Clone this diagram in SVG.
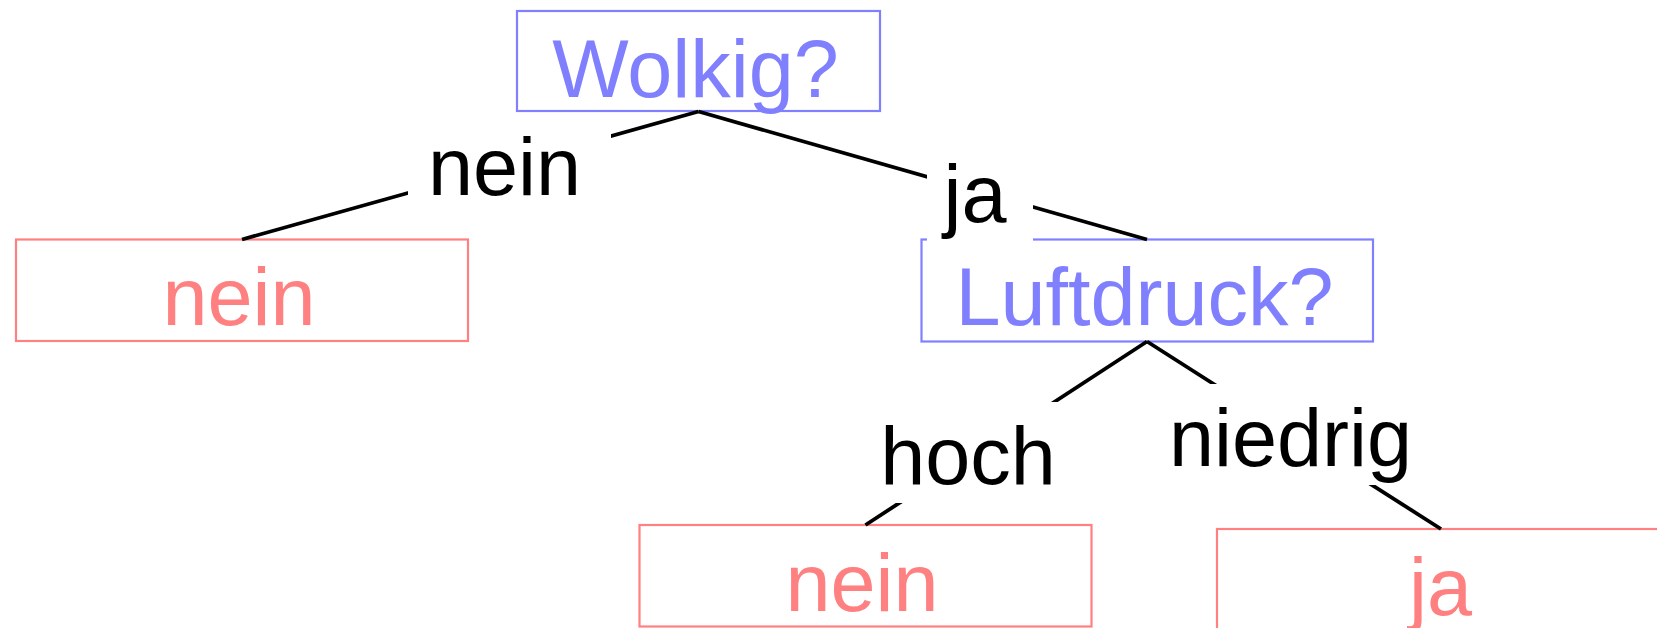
<svg xmlns="http://www.w3.org/2000/svg" width="1657" height="628" viewBox="0 0 1657 628">
  <style>
    text { font-family: "Liberation Sans", Arial, Helvetica, sans-serif; font-size: 81px; text-anchor: middle; }
    .question rect { fill: #ffffff; stroke: #8080ff; stroke-width: 2.2; }
    .question text { fill: #8080ff; }
    .answer rect { fill: #ffffff; stroke: #ff8080; stroke-width: 2.2; }
    .answer text { fill: #ff8080; }
    .edge line { stroke: #000000; stroke-width: 3.8; stroke-linecap: butt; }
    .edge rect { fill: #ffffff; stroke: none; }
    .edge text { fill: #000000; }
  </style>

  <!-- decision nodes -->
  <g id="node-wolkig" class="question">
    <rect x="517" y="11" width="363" height="100"/>
    <text x="695.5" y="97">Wolkig?</text>
  </g>
  <g id="node-nein-1" class="answer">
    <rect x="16" y="239.5" width="452" height="101.5"/>
    <text x="239" y="325">nein</text>
  </g>
  <g id="node-luftdruck" class="question">
    <rect x="921.5" y="239.5" width="451.5" height="102"/>
    <text x="1144.5" y="325">Luftdruck?</text>
  </g>
  <g id="node-nein-2" class="answer">
    <rect x="639.5" y="525" width="452" height="101.5"/>
    <text x="862" y="611">nein</text>
  </g>
  <g id="node-ja" class="answer">
    <rect x="1217" y="529" width="452" height="102"/>
    <text x="1440.5" y="615">ja</text>
  </g>

  <!-- edges with their labels; the label backing hides the line behind the text -->
  <g id="connectors">
    <g class="edge" id="edge-wolkig-nein">
      <line x1="698.5" y1="111.5" x2="242" y2="239.5"/>
      <rect x="408" y="114" width="203" height="100"/>
      <text x="504.5" y="195">nein</text>
    </g>
    <g class="edge" id="edge-wolkig-luftdruck">
      <line x1="698.5" y1="111.5" x2="1147" y2="239.5"/>
      <rect x="927" y="139" width="106" height="102"/>
      <text x="975" y="222">ja</text>
    </g>
    <g class="edge" id="edge-luftdruck-hoch">
      <line x1="1147" y1="341.5" x2="865.5" y2="525"/>
      <rect x="861" y="402" width="225" height="101"/>
      <text x="968" y="484">hoch</text>
    </g>
    <g class="edge" id="edge-luftdruck-niedrig">
      <line x1="1147" y1="341.5" x2="1441" y2="529"/>
      <rect x="1148" y="384" width="296" height="101"/>
      <text x="1290.5" y="466">niedrig</text>
    </g>
  </g>
</svg>
